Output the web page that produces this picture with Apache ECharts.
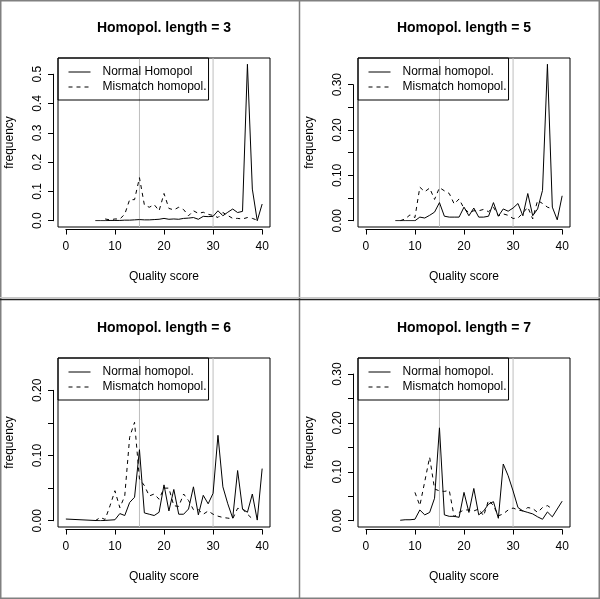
<!DOCTYPE html>
<html>
<head>
<meta charset="utf-8">
<script src="https://cdn.jsdelivr.net/npm/echarts@6/dist/echarts.min.js"></script>
<style>
html,body{margin:0;padding:0;background:#fff;}
#c{width:600px;height:599px;}
</style>
</head>
<body>
<div id="c"></div>
<script>
// ---------- data ----------
const quality = [0,1,2,3,4,5,6,7,8,9,10,11,12,13,14,15,16,17,18,19,20,21,22,23,24,25,26,27,28,29,30,31,32,33,34,35,36,37,38,39,40];

const titles = ['Homopol. length = 3','Homopol. length = 5','Homopol. length = 6','Homopol. length = 7'];
const normalNames = ['Normal Homopol','Normal homopol.','Normal homopol.','Normal homopol.'];
const mismatchNames = ['Mismatch homopol.','Mismatch homopol.','Mismatch homopol.','Mismatch homopol.'];
const xTicks = [0,10,20,30,40];
const qualityLines = [15,30];

const normal3 = [null,null,null,null,null,null, 0,0,0,0.001,0.001, 0.001,0.002,0.002,0.003,0.004, 0.003,0.003,0.004,0.005,0.008, 0.005,0.006,0.005,0.008,0.009, 0.011,0.005,0.015,0.014,0.015, 0.034,0.017,0.029,0.04,0.028, 0.032,0.534,0.108,0,0.057];
const mismatch3 = [null,null,null,null,null,null,null,null, 0.006,0.003,0.006, 0.006,0.022,0.072,0.072,0.147, 0.054,0.046,0.055,0.034,0.093, 0.042,0.037,0.046,0.038,0.017, 0.034,0.025,0.029,0.022,0.018, 0.011,0.028,0.018,0.008,0.008, 0.006,0.011,0.008,0.002,null];

const normal5 = [null,null,null,null,null,null, 0,0,0,0,0, 0.008,0.006,0.012,0.019,0.04, 0.01,0.008,0.008,0.008,0.03, 0.011,0.028,0.008,0.008,0.01, 0.04,0.01,0.026,0.021,0.028, 0.038,0.011,0.06,0.011,0.026, 0.067,0.345,0.03,0.002,0.055];
const mismatch5 = [null,null,null,null,null,null,null, 0,0.004,0.013,0.007, 0.074,0.064,0.072,0.047,0.073, 0.066,0.06,0.037,0.048,0.027, 0.018,0.022,0.022,0.025,0.02, 0.03,0.011,0.015,0.012,0.005, 0.006,0.017,0.03,0.004,0.045, 0.038,0.03,0.026,null,null];

const normal6 = [0.0026, null,null,null,null,null,null, 0,0.0005,0.001,0.0015, 0.011,0.008,0.028,0.036,0.109, 0.012,0.01,0.008,0.013,0.055, 0.015,0.048,0.01,0.01,0.018, 0.052,0.009,0.039,0.026,0.042, 0.131,0.052,0.026,0.004,0.077, 0.018,0.013,0.041,0.001,0.08];
const mismatch6 = [null,null,null,null,null,null, 0,0.005,0.002,0.023,0.046, 0.02,0.038,0.128,0.151,0.064, 0.054,0.038,0.041,0.033,0.05, 0.05,0.023,0.022,0.041,0.031, 0.017,0.017,0.01,0.015,0.01, 0.007,0.005,0.004,0.003,0.019, 0.018,0.01,0.003,null,null];

const normal7 = [null,null,null,null,null,null,null, 0.001,0.002,0.002,0.003, 0.022,0.012,0.017,0.046,0.19, 0.012,0.009,0.009,0.007,0.058, 0.017,0.066,0.012,0.02,0.034, 0.039,0.005,0.116,0.092,0.061, 0.027,0.02,0.017,0.014,0.008, 0.003,0.018,0.008,0.024,0.04];
const mismatch7 = [null,null,null,null,null,null,null,null,null,null, 0.058, 0.031,0.08,0.13,0.065,0.061, 0.06,0.062,0.008,0.017,0.022, 0.022,0.02,0.024,0.01,0.042, 0.031,0.01,0.014,0.022,0.026, 0.022,0.02,0.027,0.025,0.017, 0.027,0.031,0.024,null,null];

const normalSeries = [normal3, normal5, normal6, normal7];
const mismatchSeries = [mismatch3, mismatch5, mismatch6, mismatch7];
const yLimits = [0.534, 0.345, 0.24, 0.32];
const yLastTick = [0.5, 0.30, 0.20, 0.30];
const yTickStep = [0.1, 0.05, 0.05, 0.05];
const yDecimals = [1, 2, 2, 2];

// ---------- layout ----------
const FONT = '"Liberation Sans", Arial, Helvetica, sans-serif';
const origins = [[0,0],[300,0],[0,300],[300,300]];
const BOX = {l:58, t:58, w:212, h:169};
const padX = BOX.w * 0.04 / 1.08, padY = BOX.h * 0.04 / 1.08;

const grid = [], xAxis = [], yAxis = [], series = [], title = [], legend = [];

function pairs(arr){
  const out = [];
  for (let i = 0; i < quality.length; i++) out.push([quality[i], arr[i]]);
  return out;
}

origins.forEach(([ox, oy], i) => {
  const dl = ox + BOX.l + padX, dt = oy + BOX.t + padY;
  const dw = BOX.w - 2*padX, dh = BOX.h - 2*padY;
  const yOf = v => dt + dh * (1 - v / yLimits[i]);

  // frame grid
  const g0 = grid.length;
  grid.push({left: ox+BOX.l, top: oy+BOX.t, width: BOX.w, height: BOX.h, show: true,
    borderColor: '#000', borderWidth: 1, backgroundColor: 'transparent', outerBoundsMode: 'none'});
  xAxis.push({gridIndex: g0, type: 'value', min: -1.6, max: 41.6,
    axisLine:{show:false, onZero:false}, axisTick:{show:false}, axisLabel:{show:false}, splitLine:{show:false},
    name: 'Quality score', nameLocation: 'middle', nameGap: 44,
    nameTextStyle: {fontSize: 12, color: '#000', fontFamily: FONT}});
  yAxis.push({gridIndex: g0, type: 'value', min: 0, max: 1,
    axisLine:{show:false, onZero:false}, axisTick:{show:false}, axisLabel:{show:false}, splitLine:{show:false},
    name: 'frequency', nameLocation: 'middle', nameGap: 42,
    nameTextStyle: {fontSize: 12, color: '#000', fontFamily: FONT}});
  qualityLines.forEach(q => {
    series.push({type: 'line', xAxisIndex: g0, yAxisIndex: g0, silent: true, symbol: 'none',
      data: [[q, 0], [q, 1]], lineStyle: {color: '#bebebe', width: 1}, z: 1, animation: false});
  });

  // data grid
  const g1 = grid.length;
  grid.push({left: dl, top: dt, width: dw, height: dh, show: false, outerBoundsMode: 'none'});
  xAxis.push({gridIndex: g1, type: 'value', min: 0, max: 40, show: false});
  yAxis.push({gridIndex: g1, type: 'value', min: 0, max: yLimits[i], show: false});
  series.push({type: 'line', name: normalNames[i], xAxisIndex: g1, yAxisIndex: g1,
    data: pairs(normalSeries[i]), connectNulls: true, symbol: 'none', z: 3,
    lineStyle: {color: '#000', width: 1, type: 'solid'}, itemStyle: {color: '#000'}, animation: false});
  series.push({type: 'line', name: mismatchNames[i], xAxisIndex: g1, yAxisIndex: g1,
    data: pairs(mismatchSeries[i]), connectNulls: true, symbol: 'none', z: 3,
    lineStyle: {color: '#000', width: 1, type: [4, 4]}, itemStyle: {color: '#000'}, animation: false});

  // axis grid (ticks from 0 to last tick, like R's axis)
  const g2 = grid.length;
  const top0 = yOf(yLastTick[i]), bot0 = yOf(0);
  grid.push({left: dl, top: top0, width: dw, height: bot0 - top0, show: false, outerBoundsMode: 'none'});
  xAxis.push({gridIndex: g2, type: 'value', min: xTicks[0], max: xTicks[xTicks.length-1], interval: 10,
    offset: 8.8,
    axisLine: {show: true, onZero: false, lineStyle: {color: '#000', width: 1}},
    axisTick: {show: true, length: 5, lineStyle: {color: '#000', width: 1}},
    axisLabel: {show: true, fontSize: 12, color: '#000', fontFamily: FONT, margin: 11.5,
      showMinLabel: true, showMaxLabel: true},
    splitLine: {show: false}});
  const dec = yDecimals[i];
  yAxis.push({gridIndex: g2, type: 'value', min: 0, max: yLastTick[i], interval: yTickStep[i],
    offset: (dl - (ox + 53)),
    axisLine: {show: true, onZero: false, lineStyle: {color: '#000', width: 1}},
    axisTick: {show: true, length: 5, lineStyle: {color: '#000', width: 1}},
    axisLabel: {show: true, rotate: 90, fontSize: 12, color: '#000', fontFamily: FONT, margin: 9,
      showMinLabel: true, showMaxLabel: true, hideOverlap: false,
      formatter: v => (Math.abs(Math.round(v * 100)) % 10 === 0) ? v.toFixed(dec) : ''},
    splitLine: {show: false}});

  title.push({text: titles[i], left: ox + BOX.l + BOX.w/2, top: oy + 21.5, textAlign: 'center', padding: 0,
    textStyle: {fontSize: 14, fontWeight: 'bold', color: '#000', fontFamily: FONT}});

  legend.push({left: ox + BOX.l, top: oy + BOX.t, orient: 'vertical',
    data: [normalNames[i], mismatchNames[i]],
    itemWidth: 22, itemHeight: 12, itemGap: 3, padding: [8, 2, 7, 10],
    borderColor: '#000', borderWidth: 1, backgroundColor: 'transparent', selectedMode: false,
    itemStyle: {color: 'transparent', borderWidth: 0, opacity: 0},
    lineStyle: {width: 1, color: '#000'},
    textStyle: {fontSize: 12, color: '#000', fontFamily: FONT, padding: [0, 0, 0, 7]}});
});

const chart = echarts.init(document.getElementById('c'), null, {renderer: 'canvas'});
chart.setOption({
  animation: false,
  backgroundColor: '#fff',
  title, legend, grid, xAxis, yAxis, series,
  graphic: [
    {type: 'rect', shape: {x: 0.75, y: 0.75, width: 598.5, height: 597.5}, style: {fill: 'none', stroke: '#808080', lineWidth: 1.5}, silent: true},
    {type: 'line', shape: {x1: 299.5, y1: 0, x2: 299.5, y2: 599}, style: {stroke: '#808080', lineWidth: 1.5}, silent: true},
    {type: 'line', shape: {x1: 0, y1: 297.5, x2: 600, y2: 297.5}, style: {stroke: '#c8c8c8', lineWidth: 1}, silent: true},
    {type: 'line', shape: {x1: 0, y1: 299.5, x2: 600, y2: 299.5}, style: {stroke: '#222', lineWidth: 1.5}, silent: true}
  ]
});
</script>
</body>
</html>
